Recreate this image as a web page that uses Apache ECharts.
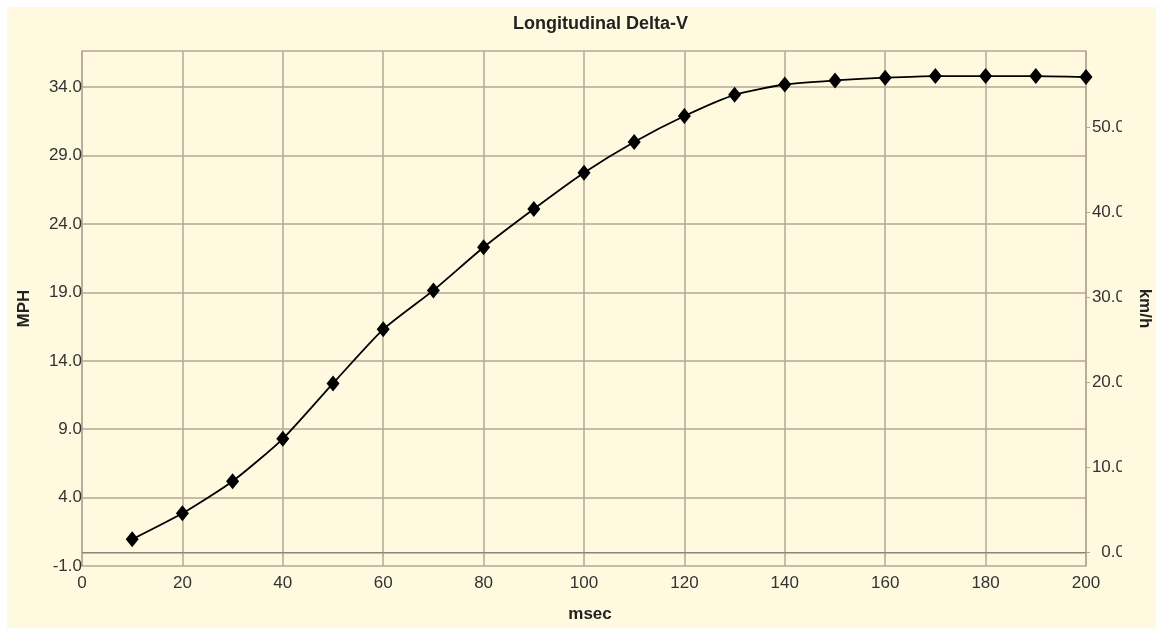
<!DOCTYPE html>
<html>
<head>
<meta charset="utf-8">
<script src="https://cdn.jsdelivr.net/npm/echarts@6/dist/echarts.min.js"></script>
<style>
  html, body { margin: 0; padding: 0; background: #ffffff; overflow: hidden; }
  #chart { position: absolute; left: 7px; top: 7px; width: 1149px; height: 621px; background: #FFFADF; }
</style>
</head>
<body>
<div id="chart"></div>
<script>
// ---- data ----
const msec = [10, 20, 30, 40, 50, 60, 70, 80, 90, 100, 110, 120, 130, 140, 150, 160, 170, 180, 190, 200];
const mph = [0.95, 2.85, 5.2, 8.3, 12.35, 16.3, 19.15, 22.3, 25.1, 27.75, 30.0, 31.9, 33.45, 34.2, 34.5, 34.7, 34.82, 34.82, 34.82, 34.75];
const kmhTicks = [0, 10, 20, 30, 40, 50];
const MPH_MIN = -1, MPH_MAX = 36.65;
const MPH_TO_KMH = 1.609344;

const gridColor = '#B7A794';
const textColor = '#333333';
const font = 'Liberation Sans, Arial, sans-serif';

const chart = echarts.init(document.getElementById('chart'));
chart.setOption({
  backgroundColor: '#FFFADF',
  animation: false,
  title: {
    text: 'Longitudinal Delta-V',
    left: 506, top: 8, padding: 0,
    textStyle: { fontFamily: font, fontSize: 18, fontWeight: 'bold', color: '#222' }
  },
  grid: { left: 75, right: 70, top: 44, bottom: 62, containLabel: false, outerBoundsMode: 'none' },
  xAxis: {
    type: 'value', min: 0, max: 200, interval: 20,
    name: 'msec', nameLocation: 'middle', nameGap: 40,
    nameTextStyle: { fontFamily: font, fontSize: 17, fontWeight: 'bold', color: '#222', padding: [0, 0, 0, 12] },
    axisLine: { show: true, lineStyle: { color: gridColor, width: 1.5 } },
    axisTick: { show: true, length: 3, lineStyle: { color: gridColor } },
    axisLabel: { fontFamily: font, fontSize: 17, color: textColor, margin: 9 },
    splitLine: { show: true, lineStyle: { color: gridColor, width: 1.5 } }
  },
  yAxis: [
    {
      type: 'value', position: 'left', min: MPH_MIN, max: MPH_MAX, interval: 5,
      name: 'MPH', nameLocation: 'middle', nameGap: 49,
      nameTextStyle: { fontFamily: font, fontSize: 17, fontWeight: 'bold', color: '#222' },
      axisLine: { show: true, lineStyle: { color: gridColor, width: 1.5 } },
      axisTick: { show: false },
      axisLabel: { fontFamily: font, fontSize: 17, color: textColor, margin: 0, showMaxLabel: false,
        formatter: v => v.toFixed(1) },
      splitLine: { show: true, lineStyle: { color: gridColor, width: 1.5 } }
    },
    {
      type: 'value', position: 'right', min: MPH_MIN * MPH_TO_KMH, max: MPH_MAX * MPH_TO_KMH,
      name: 'km/h', nameLocation: 'middle', nameGap: 48, nameRotate: -90,
      nameTextStyle: { fontFamily: font, fontSize: 17, fontWeight: 'bold', color: '#222' },
      axisLine: { show: true, lineStyle: { color: gridColor, width: 1.5 } },
      axisTick: { show: true, length: 4, customValues: kmhTicks, lineStyle: { color: gridColor } },
      axisLabel: { fontFamily: font, fontSize: 17, color: textColor, margin: 39, align: 'right', customValues: kmhTicks,
        formatter: v => v.toFixed(1) },
      splitLine: { show: false }
    }
  ],
  graphic: [
    { type: 'rect', shape: { x: 1115, y: 60, width: 14, height: 510 }, style: { fill: '#FFFADF' }, z: 100 }
  ],
  series: [{
    type: 'line',
    yAxisIndex: 0,
    data: msec.map((x, i) => [x, mph[i]]),
    smooth: 0.2,
    symbol: 'diamond',
    symbolSize: [13, 16],
    itemStyle: { color: '#000' },
    lineStyle: { color: '#000', width: 1.8 },
    markLine: {
      silent: true, symbol: 'none', label: { show: false },
      lineStyle: { color: '#8E857A', width: 1.2, type: 'solid' },
      data: [{ yAxis: 0 }]
    }
  }]
});
</script>
</body>
</html>
